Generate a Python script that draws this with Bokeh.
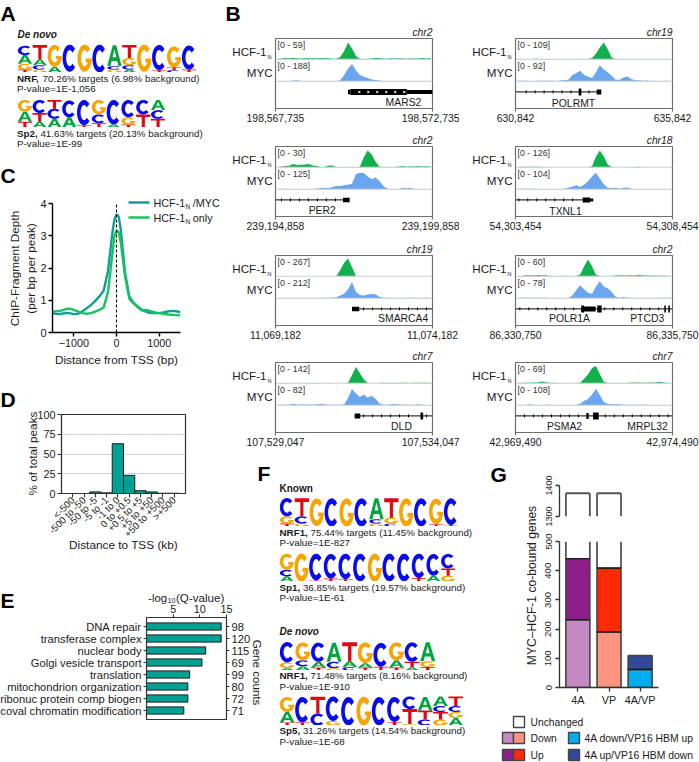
import math
from bokeh.plotting import figure
from bokeh.models import (Range1d, FactorRange, FixedTicker, NumeralTickFormatter, CategoricalAxis, Span)
from bokeh.core.properties import value
from bokeh.embed import file_html
from bokeh.resources import INLINE

FONT = "Liberation Sans"
TEAL = "#00a093"

# ---------- sequence logos: per position, letters from bottom to top with height ----------
LOGO_A_NRF = [[("T",.1),("G",.2),("A",.3),("C",.32)],[("G",.1),("C",.15),("A",.2),("T",.5)],[("A",.2),("G",.75)],[("T",.03),("C",.93)],
              [("A",.03),("G",.93)],[("C",.96)],[("G",.1),("C",.12),("A",.72)],[("A",.1),("C",.15),("G",.25),("T",.45)],
              [("A",.03),("G",.93)],[("T",.08),("C",.87)],[("C",.08),("T",.1),("G",.72)],[("T",.1),("C",.83)]]
LOGO_A_SP2 = [[("T",.2),("A",.35),("G",.4)],[("A",.2),("T",.3),("C",.45)],[("A",.3),("C",.35),("T",.3)],[("A",.35),("C",.58)],
              [("T",.08),("C",.87)],[("T",.15),("C",.3),("G",.5)],[("A",.1),("C",.85)],[("T",.1),("G",.25),("C",.6)],
              [("T",.45),("C",.5)],[("T",.3),("C",.3),("A",.35)]]
LOGO_F_NRF1 = [[("T",.1),("G",.25),("C",.63)],[("G",.1),("C",.25),("T",.62)],[("A",.02),("G",.95)],[("C",.97)],[("G",.97)],[("C",.97)],
               [("G",.1),("C",.15),("A",.72)],[("C",.1),("G",.2),("T",.67)],[("G",.97)],[("C",.97)],[("T",.08),("G",.88)],[("T",.05),("C",.92)]]
LOGO_F_SP1 = [[("A",.18),("C",.22),("G",.56)],[("G",.97)],[("T",.04),("C",.92)],[("T",.1),("C",.85)],[("T",.08),("C",.88)],[("C",.96)],
              [("G",.96)],[("C",.96)],[("C",.96)],[("T",.12),("C",.84)],[("A",.2),("C",.75)],[("G",.2),("T",.25),("C",.5)]]
LOGO_F_NRF1B = [[("A",.08),("G",.2),("C",.7)],[("A",.15),("C",.2),("G",.62)],[("T",.1),("A",.2),("C",.66)],[("G",.08),("C",.22),("A",.66)],
                [("C",.12),("A",.2),("T",.65)],[("T",.1),("A",.15),("G",.72)],[("T",.13),("C",.82)],[("T",.1),("A",.25),("G",.62)],
                [("A",.1),("T",.2),("C",.67)],[("T",.12),("G",.2),("A",.65)]]
LOGO_F_SP5 = [[("T",.1),("A",.35),("G",.5)],[("T",.1),("C",.85)],[("C",.4),("T",.56)],[("G",.15),("C",.82)],[("C",.95)],[("G",.96)],
              [("C",.95)],[("T",.12),("C",.83)],[("G",.05),("T",.5),("C",.42)],[("C",.2),("T",.3),("A",.45)],
              [("G",.2),("T",.25),("C",.2),("A",.32)],[("A",.25),("G",.2),("C",.2),("T",.32)]]
LETTER_COLORS = {"A": "#00a63c", "C": "#0a0af0", "G": "#f7a400", "T": "#e30613"}

# ---------- panel C ----------
C_X = [-1500,-1400,-1300,-1200,-1100,-1000,-900,-800,-700,-600,-500,-400,-300,-200,-100,-50,0,50,100,200,300,400,500,600,700,800,900,1000,1100,1200,1300,1400,1500]
C_BOTH = [.6,.57,.58,.6,.6,.57,.58,.66,.75,.85,.98,1.12,1.3,1.9,3.05,3.5,3.66,3.6,3.2,1.85,1.12,.92,.8,.7,.64,.6,.6,.6,.62,.65,.67,.66,.63]
C_ONLY = [.65,.66,.68,.72,.74,.7,.65,.6,.58,.6,.65,.7,.78,1.25,2.4,3.0,3.15,3.12,2.8,1.75,1.05,.9,.78,.68,.7,.66,.62,.6,.58,.56,.55,.54,.53]

# ---------- panel D ----------
D_CATS = ["<-500","-500 to -50","-50 to -5","-5 to -1","-1 to 0","0 to +0.5","+0.5 to +5","+5 to +50","+50 to +500",">+500"]
D_VALS = [0,0,2,.8,63,23,3.5,2,.3,.3]

# ---------- panel E ----------
E_TERMS = ["DNA repair","transferase complex","nuclear body","Golgi vesicle transport","translation","mitochondrion organization","ribonuc protein comp biogen","coval chromatin modification"]
E_QVALS = [14,14,11.1,10.4,8.1,7.75,7.75,7.0]
E_COUNTS = ["98","120","115","69","99","80","72","71"]

# ---------- panel G ----------
G_CATS = ["4A","VP","4A/VP"]
G_DOWN = [232,190,62]
G_TOTAL = [441,409,109]
G_UNCHANGED_TOP = [1375,1375]
G_DOWN_COL = ["#c58ac1","#ff9580","#00aeef"]
G_UP_COL = ["#8e1f8a","#ff2a00","#33489c"]

# ---------- panel B tracks: 40 bins of 125 bp, % of the track's scale ----------
MARS2_H = [3,4,6,5,8,5,4,6,5,6,4,6,6,5,3,3,12,45,93,60,18,3,1,2,4,8,7,4,3,5,4,5,4,3,5,3,5,6,4,8]
MARS2_M = [1,1,1,1,4,5,1,1,1,1,1,1,1,1,1,1,5,35,70,95,60,35,25,18,10,7,4,1,1,1,1,1,1,1,1,1,1,1,1,1]
PER2_H = [0,4,6,8,18,12,14,15,18,10,6,1,1,10,10,1,1,1,1,1,1,3,55,93,70,30,3,1,1,1,1,4,6,2,5,4,6,4,5,3]
PER2_M = [1,2,1,1,1,1,1,1,1,1,2,6,8,6,12,18,18,22,25,30,85,92,90,70,55,65,45,18,3,1,1,1,8,5,6,1,1,1,1,1]
SMARCA4_H = [0,0,0,0,0,0,0,0,0,0,0,0,0,0,0,0,35,75,98,50,1,0,0,0,0,0,0,0,0,0,0,0,0,0,0,0,0,0,0,0]
SMARCA4_M = [1,1,1,1,1,1,1,1,1,1,1,1,2,3,2,5,15,25,50,90,35,18,15,20,23,20,8,3,2,1,1,1,1,2,2,3,1,1,3,1]
DLD_H = [0,1,1,1,0,0,1,0,1,1,1,1,0,1,0,0,0,0,3,45,90,55,20,1,0,0,1,2,1,2,1,2,2,2,1,2,3,2,3,2]
DLD_M = [1,2,2,3,8,3,5,4,4,4,5,8,4,2,3,3,3,5,40,90,65,45,60,42,52,35,10,3,2,5,7,4,2,2,2,3,5,2,1,1]
POLRMT_H = [1,1,1,1,1,2,1,1,1,1,1,1,1,1,1,1,1,1,1,6,30,65,93,55,10,1,1,1,1,1,1,1,1,1,1,1,1,1,1,1]
POLRMT_M = [3,2,3,1,1,3,3,2,2,2,1,4,6,8,35,45,58,35,25,18,50,89,65,50,30,8,8,20,26,12,5,5,2,4,1,2,1,1,3,1]
TXNL1_H = [0,3,3,3,3,3,1,1,0,0,0,0,0,0,0,0,0,0,0,5,60,93,60,15,1,0,0,0,0,1,1,3,0,0,0,0,0,0,0,0]
TXNL1_M = [1,3,3,3,3,1,1,1,1,1,1,1,3,8,15,22,12,25,45,70,92,60,28,8,6,8,3,8,10,3,1,1,1,1,1,1,1,1,1,1]
POLR1A_H = [0,1,5,5,4,6,5,5,3,1,1,1,2,1,0,1,10,55,93,55,8,1,1,1,1,4,5,4,4,5,4,8,4,4,3,4,3,3,2,2]
POLR1A_M = [1,2,2,2,2,2,2,2,1,1,1,1,1,1,15,45,72,50,30,25,65,94,65,55,35,8,2,6,2,1,1,1,1,1,1,1,2,1,3,2]
PSMA2_H = [1,1,2,2,4,4,10,6,3,3,1,1,0,0,0,1,3,25,50,85,95,50,8,1,1,1,1,1,1,4,4,4,3,3,4,4,8,5,3,1]
PSMA2_M = [0,1,1,5,3,1,1,1,4,1,1,1,1,1,1,1,8,25,35,60,92,55,18,8,5,5,5,3,3,3,3,2,3,2,1,1,1,1,1,1]

TRACKS = [
 ("c0",0,198567735,59,188,"chr2",MARS2_H,MARS2_M,[],[(2309,2383,4.5),(2383,4183,6),(4183,5000,4)],[],[2669,2955,3241,3527,3813,4099]),
 ("c0",1,239194858,30,125,"chr2",PER2_H,PER2_M,[(0,2171)],[(2150,2362,4.5)],[191,477,763,1048,1334,1620,1906],[]),
 ("c0",2,11069182,267,212,"chr19",SMARCA4_H,SMARCA4_M,[(2669,5000)],[(2436,2669,4.5)],[2806,3092,3378,3664,3950,4236,4522,4808],[]),
 ("c0",3,107529047,142,82,"chr7",DLD_H,DLD_M,[(2700,5000)],[(2520,2700,5),(4617,4702,7)],[2806,3092,3378,3664,3950,4236,4808],[]),
 ("c1",0,630842,109,92,"chr19",POLRMT_H,POLRMT_M,[(0,2732)],[(2012,2097,7),(2584,2732,5)],[339,625,911,1197,1483,1769,2340],[]),
 ("c1",1,54303454,126,104,"chr18",TXNL1_H,TXNL1_M,[(0,2139)],[(2139,2372,5),(2372,2478,3)],[106,392,678,964,1250,1536,1822],[]),
 ("c1",2,86330750,60,78,"chr2",POLR1A_H,POLR1A_M,[(0,5000)],[(2097,2552,5),(2097,2182,7),(2605,2743,7),(4740,4790,7),(4867,4917,7)],[138,424,710,996,1282,1568,1854,2844,3130,3416,3702,3988,4274,4560],[]),
 ("c1",3,42969490,69,108,"chr7",PSMA2_H,PSMA2_M,[(0,5000)],[(2256,2330,6),(2468,2648,7)],[286,572,858,1144,1430,1716,2002,2860,3146,3432,3718,4004,4290,4576,4862],[]),
]
GENE_LABELS = [("MARS2",403,101.7),("PER2",321.7,210.3),("SMARCA4",402.7,318),("DLD",401,426),
               ("POLRMT",573,102.7),("TXNL1",565,210.7),("POLR1A",569,318.3),("PTCD3",646.7,318.3),("PSMA2",564,426),("MRPL32",647,426)]

figs = []
ROW_TOP = [38, 146, 255, 362]
COL_LEFT = {"c0": 275, "c1": 515}


def frame_fig(x, y, w, h, xr, yr, l=0, r=0, t=0, b=0, **kw):
    p = figure(frame_width=w, frame_height=h, x_range=xr, y_range=yr, toolbar_location=None, output_backend="svg",
               min_border_left=l, min_border_right=r, min_border_top=t, min_border_bottom=b,
               background_fill_color=None, border_fill_color=None, outline_line_color=None,
               styles={"position": "absolute", "left": f"{x-l}px", "top": f"{y-t}px"}, **kw)
    p.grid.visible = False
    figs.append(p)
    return p


def style_axis(a, size=10.8, col="#000000", lw=1.2, out=4):
    a.major_label_text_font = FONT
    a.major_label_text_font_size = f"{size}px"
    a.major_label_text_color = "#1a1a1a"
    a.axis_line_color = col
    a.axis_line_width = lw
    a.major_tick_line_color = col
    a.major_tick_line_width = lw
    a.major_tick_out = out
    a.major_tick_in = 0
    a.minor_tick_line_color = None
    a.major_label_standoff = 2


# ---- shapes of the logo letters, in a unit box ----
def arc(rx, ry, a0, a1, n=28):
    return [(.5 + rx*math.cos(math.radians(a0 + (a1-a0)*i/n)), .5 + ry*math.sin(math.radians(a0 + (a1-a0)*i/n))) for i in range(n+1)]


SHAPES = {
    "A": [[(0,0),(.22,0),(.31,.25),(.69,.25),(.78,0),(1,0),(.62,1),(.38,1)], [(.37,.42),(.63,.42),(.5,.8)]],
    "T": [[(.39,0),(.61,0),(.61,.8),(1,.8),(1,1),(0,1),(0,.8),(.39,.8)]],
    "C": [arc(.5,.5,42,318) + arc(.25,.3,318,42)],
    "G": [arc(.5,.5,42,358) + [(.58,.49),(.58,.34),(.74,.34)] + arc(.25,.3,312,42)],
}


def logo(stacks, x, y, w, h):
    n = len(stacks)
    p = frame_fig(x, y, w, h, Range1d(0, n), Range1d(0, 1), x_axis_location=None, y_axis_location=None)
    xs, ys, cols = [], [], []
    for i, stack in enumerate(stacks):
        base = 0
        for letter, ht in stack:
            rings = SHAPES[letter]
            xs.append([[[i + .02 + .96*px for px, _ in ring] for ring in rings]])
            ys.append([[[base + ht*py for _, py in ring] for ring in rings]])
            cols.append(LETTER_COLORS[letter])
            base += ht
    p.multi_polygons(xs=xs, ys=ys, fill_color=cols, line_color=None)
    return p


logo(LOGO_A_NRF, 17, 43, 179, 29)
logo(LOGO_A_SP2, 17, 98, 148, 29)
logo(LOGO_F_NRF1, 279, 497, 179, 29)
logo(LOGO_F_SP1, 279, 552, 176, 29)
logo(LOGO_F_NRF1B, 279, 641, 156, 29)
logo(LOGO_F_SP5, 279, 695, 184, 30)

# ---- panel B ----
H_BASE, M_BASE, GENE_Y, PXH = 20.7, 42.7, 53.4, 18.0
for colname, row, start, hmax, mmax, chrom, hv, mv, introns, exons, ticks, chev in TRACKS:
    p = frame_fig(COL_LEFT[colname], ROW_TOP[row], 157, 70, Range1d(start, start+5000), Range1d(70, 0),
                  l=35, r=27, t=2, b=22, y_axis_location=None)
    p.extra_y_ranges = {
        "hcf": Range1d((H_BASE-70)/PXH*hmax, H_BASE/PXH*hmax),
        "myc": Range1d((M_BASE-70)/PXH*mmax, M_BASE/PXH*mmax),
    }
    p.outline_line_color = "#6e6e6e"
    p.outline_line_width = 1.2
    xb = [start + 62 + 125*i for i in range(len(hv))]
    p.add_layout(Span(location=H_BASE, dimension="width", line_color="#cfcfcf", line_width=1))
    p.add_layout(Span(location=M_BASE, dimension="width", line_color="#cfcfcf", line_width=1))
    p.varea(x=xb, y1=[0]*len(xb), y2=[v/100*hmax for v in hv], y_range_name="hcf", fill_color="#10b04c")
    p.varea(x=xb, y1=[0]*len(xb), y2=[v/100*mmax for v in mv], y_range_name="myc", fill_color="#6aa5f0")
    if introns:
        p.segment(x0=[start+a for a, b in introns], x1=[start+b for a, b in introns], y0=GENE_Y, y1=GENE_Y,
                  line_color="#000000", line_width=1)
    if ticks:
        p.segment(x0=[start+a for a in ticks], x1=[start+a for a in ticks], y0=GENE_Y-1.5, y1=GENE_Y+1.5,
                  line_color="#000000", line_width=1)
    for a, b, hpx in exons:
        p.segment(x0=[start+a], x1=[start+b], y0=GENE_Y, y1=GENE_Y, line_color="#000000", line_width=hpx)
    if chev:
        p.scatter(x=[start+a for a in chev], y=GENE_Y, marker="triangle", angle=-math.pi/2, size=3, fill_color="#ffffff", line_color=None)
    p.xaxis.ticker = FixedTicker(ticks=[start, start+5000])
    p.xaxis.formatter = NumeralTickFormatter(format="0,0")
    style_axis(p.xaxis[0], size=10.4, col="#6e6e6e", lw=1.2, out=3)

# ---- panel C ----
p = frame_fig(52, 203, 128, 129, Range1d(-1500, 1500), Range1d(0, 4), l=24, r=10, t=6, b=22)
p.line(C_X, C_BOTH, line_color="#0e9f97", line_width=2.4)
p.line(C_X, C_ONLY, line_color="#14c45e", line_width=2.4)
p.line([0, 0], [0, 4], line_color="#000000", line_width=1.1, line_dash="3 2")
p.xaxis.ticker = FixedTicker(ticks=[-1000, 0, 1000])
p.yaxis.ticker = FixedTicker(ticks=[0, 1, 2, 3, 4])
style_axis(p.xaxis[0], size=10.8, lw=1.4)
style_axis(p.yaxis[0], size=11, lw=1.4)

# ---- panel D ----
p = frame_fig(61, 414, 124, 79, FactorRange(factors=D_CATS, range_padding=.5, range_padding_units="absolute"), Range1d(0, 100),
              l=30, r=8, t=6, b=60)
p.vbar(x=D_CATS, top=D_VALS, width=1.0, fill_color=TEAL, line_color="#1c1c1c", line_width=1)
p.ygrid.visible = True
p.ygrid.grid_line_color = "#bdbdbd"
p.ygrid.grid_line_dash = "2 1"
p.ygrid.grid_line_width = 1
p.xgrid.visible = False
p.yaxis.ticker = FixedTicker(ticks=[0, 25, 50, 75, 100])
p.outline_line_color = "#333333"
p.outline_line_width = 1.2
style_axis(p.xaxis[0], size=9.8, col="#333333", lw=1.1)
style_axis(p.yaxis[0], size=10.8, col="#333333", lw=1.1)
p.xaxis.major_label_orientation = math.pi/4
p.xaxis.major_label_standoff = 1

# ---- panel E ----
p = frame_fig(146, 617, 80, 102, Range1d(0, 15),
              FactorRange(factors=list(reversed(E_TERMS)), range_padding=.25, range_padding_units="absolute"),
              l=170, r=30, t=20, b=2, x_axis_location="above")
p.hbar(y=E_TERMS, right=E_QVALS, height=.6, fill_color=TEAL, line_color="#1c1c1c", line_width=1)
p.extra_y_ranges = {"counts": FactorRange(factors=list(reversed(E_COUNTS)), range_padding=.25, range_padding_units="absolute")}
right_axis = CategoricalAxis(y_range_name="counts")
p.add_layout(right_axis, "right")
p.xaxis.ticker = FixedTicker(ticks=[5, 10, 15])
p.outline_line_color = "#333333"
p.outline_line_width = 1.1
style_axis(p.xaxis[0], size=10.8, col="#333333", lw=1.1, out=3)
style_axis(p.yaxis[0], size=11.2, col="#333333", lw=1.1, out=3)
style_axis(right_axis, size=11.2, col="#333333", lw=1.1, out=3)

# ---- panel G ----
g_x = lambda: FactorRange(factors=G_CATS, range_padding=.09, range_padding_units="absolute")
upper = frame_fig(559, 485, 99, 31, g_x(), Range1d(1300, 1400), l=22, r=2, t=14, b=14, x_axis_location=None)
lower = frame_fig(559, 541, 99, 146, g_x(), Range1d(0, 500), l=22, r=2, t=14, b=20)
HALF = .385
OUT = dict(line_color="#555555", line_width=1.8)
open_cats = G_CATS[:2]
# side walls of the "Unchanged" bars, broken between the two axes, and their roof
upper.segment(x0=[(c, -HALF) for c in open_cats], x1=[(c, -HALF) for c in open_cats], y0=[1300]*2, y1=G_UNCHANGED_TOP, **OUT)
upper.segment(x0=[(c, HALF) for c in open_cats], x1=[(c, HALF) for c in open_cats], y0=[1300]*2, y1=G_UNCHANGED_TOP, **OUT)
upper.segment(x0=[(c, -HALF) for c in open_cats], x1=[(c, HALF) for c in open_cats], y0=G_UNCHANGED_TOP, y1=G_UNCHANGED_TOP, **OUT)
lower.segment(x0=[(c, -HALF) for c in open_cats], x1=[(c, -HALF) for c in open_cats], y0=G_TOTAL[:2], y1=[500]*2, **OUT)
lower.segment(x0=[(c, HALF) for c in open_cats], x1=[(c, HALF) for c in open_cats], y0=G_TOTAL[:2], y1=[500]*2, **OUT)
lower.vbar(x=G_CATS, bottom=0, top=G_DOWN, width=.77, fill_color=G_DOWN_COL, line_color="#444444", line_width=1.6)
lower.vbar(x=G_CATS, bottom=G_DOWN, top=G_TOTAL, width=.77, fill_color=G_UP_COL, line_color="#444444", line_width=1.6)
lower.segment(x0=[(c, -HALF) for c in G_CATS], x1=[(c, HALF) for c in G_CATS], y0=G_DOWN, y1=G_DOWN, line_color="#111111", line_width=1.2)
lower.segment(x0=[(c, -HALF) for c in open_cats], x1=[(c, HALF) for c in open_cats], y0=G_TOTAL[:2], y1=G_TOTAL[:2], line_color="#111111", line_width=1.2)
upper.yaxis.ticker = FixedTicker(ticks=[1300, 1400])
lower.yaxis.ticker = FixedTicker(ticks=[0, 100, 200, 300, 400, 500])
style_axis(upper.yaxis[0], size=9, col="#333333", lw=1.3)
style_axis(lower.yaxis[0], size=9.6, col="#333333", lw=1.3)
style_axis(lower.xaxis[0], size=10.8, col="#333333", lw=1.3)
for q in (upper, lower):
    q.yaxis.major_label_orientation = "parallel"
    q.yaxis.major_label_standoff = 4

# ---- page-wide texts and legends ----
page = figure(width=699, height=762, x_range=Range1d(0, 699), y_range=Range1d(762, 0), toolbar_location=None, output_backend="svg",
              x_axis_location=None, y_axis_location=None, min_border=0, background_fill_color=None, border_fill_color=None,
              outline_line_color=None, styles={"position": "absolute", "left": "0px", "top": "0px"})
page.grid.visible = False
figs.append(page)


def txt(x, y, s, size=10.0, align="left", style="normal", color="#1a1a1a", angle=0):
    page.text(x=[x], y=[y], text=[s], text_font=value(FONT), text_font_size=f"{size}px", text_align=align,
              text_baseline="middle", text_font_style=style, text_color=color, angle=angle)


for s, x, y in [("A",0,13),("B",225,13),("C",0,174.5),("D",0,399),("E",0,600),("F",257,473),("G",490,474)]:
    txt(x, y, s, 21, style="bold", color="#000000")

EM = {"NRF,": 2.333, "Sp2,": 2.112, "NRF1,": 2.889, "Sp1,": 2.112, "Sp5,": 2.112}
SZ = 9.8


def motif(x, y, bold, rest, pval):
    txt(x, y, bold, SZ, style="bold")
    txt(x + (EM[bold] + .278)*SZ, y, rest, SZ)
    txt(x, y + 10.6, pval, SZ)


txt(17, 34, "De novo", 10, style="bold italic")
motif(16.5, 77.7, "NRF,", "70.26% targets (6.98% background)", "P-value=1E-1,056")
motif(16.5, 132.7, "Sp2,", "41.63% targets (20.13% background)", "P-value=1E-99")
txt(279, 487.7, "Known", 10, style="bold")
motif(279, 531.7, "NRF1,", "75.44% targets (11.45% background)", "P-value=1E-827")
motif(279, 586.7, "Sp1,", "36.85% targets (19.57% background)", "P-value=1E-61")
txt(279, 631, "De novo", 10, style="bold italic")
motif(279, 675, "NRF1,", "71.48% targets (8.16% background)", "P-value=1E-910")
motif(279, 730, "Sp5,", "31.26% targets (14.54% background)", "P-value=1E-68")

for colname, row, start, hmax, mmax, chrom, *_ in TRACKS:
    x0, top = COL_LEFT[colname], ROW_TOP[row]
    txt(x0+157, top-5.6, chrom, 10.3, align="right", style="italic")
    txt(x0+2, top+6, f"[0 - {hmax}]", 8.9, color="#333333")
    txt(x0+2, top+27, f"[0 - {mmax}]", 8.9, color="#333333")
    txt(x0-9, top+13, "HCF-1", 11.6, align="right")
    txt(x0-8, top+18, "N", 5.5)
    txt(x0-3, top+33.5, "MYC", 11.6, align="right")
for s, x, y in GENE_LABELS:
    txt(x, y, s, 10.4, align="center")

txt(14, 268, "ChIP-Fragment Depth", 11.8, align="center", angle=math.pi/2)
txt(30.5, 268, "(per bp per peak)", 11.8, align="center", angle=math.pi/2)
txt(116, 359, "Distance from TSS (bp)", 11.8, align="center")
page.line([128, 149], [202, 202], line_color="#0e9f97", line_width=2.4)
page.line([128, 149], [217, 217], line_color="#14c45e", line_width=2.4)
for y, s in [(202, "/MYC"), (217, "only")]:
    txt(153, y, "HCF-1", 10.8)
    txt(185, y+3.5, "N", 6.5)
    txt(192.3, y, s, 10.8)

txt(32, 453, "% of total peaks", 11.8, align="center", angle=math.pi/2)
txt(123, 544, "Distance to TSS (kb)", 11.8, align="center")

txt(147.7, 597, "-log", 11.3)
txt(167, 600, "10", 7.2)
txt(175.5, 597, "(Q-value)", 11.6)
txt(257, 672, "Gene counts", 11.6, align="center", angle=-math.pi/2)

txt(531.5, 585, "MYC–HCF-1 co-bound genes", 12.1, align="center", angle=math.pi/2)
BOX_LINE = dict(line_color="#444444", line_width=1.4)
page.quad(left=[513], right=[524], top=[716], bottom=[727], fill_color="#ffffff", **BOX_LINE)
page.quad(left=[502, 513], right=[513, 524], top=[732, 732], bottom=[743, 743], fill_color=[G_DOWN_COL[0], G_DOWN_COL[1]], **BOX_LINE)
page.quad(left=[502, 513], right=[513, 524], top=[749, 749], bottom=[760, 760], fill_color=[G_UP_COL[0], G_UP_COL[1]], **BOX_LINE)
page.quad(left=[568], right=[579], top=[732], bottom=[743], fill_color=G_DOWN_COL[2], **BOX_LINE)
page.quad(left=[568], right=[579], top=[749], bottom=[760], fill_color=G_UP_COL[2], **BOX_LINE)
txt(530, 721.7, "Unchanged", 10.3)
txt(530, 738, "Down", 10.3)
txt(530, 754.7, "Up", 10.3)
txt(584, 738, "4A down/VP16 HBM up", 10.4)
txt(584, 754.7, "4A up/VP16 HBM down", 10.4)

open("out.html", "w").write(file_html(figs, INLINE))
